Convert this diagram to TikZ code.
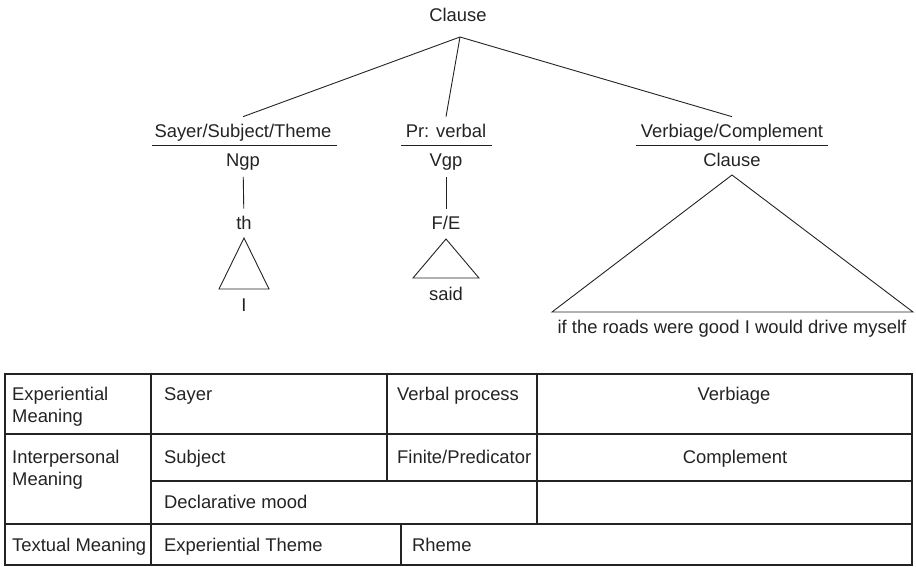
\documentclass[tikz,border=0pt]{standalone}
\usepackage{fontspec}
\setmainfont{Liberation Sans}
\usepackage{xcolor}
\usepackage{tikz}
\usetikzlibrary{calc}
\definecolor{InkGray}{RGB}{35,35,35}

\begin{document}
\begin{tikzpicture}[x=1pt, y=-1pt, font=\fontsize{18.4}{22}\selectfont, text=InkGray,
	lbl/.style={inner sep=0pt, outer ysep=7pt, anchor=base},
	cell/.style={inner sep=0pt, anchor=base west, align=left},
	branch/.style={line width=0.9pt, InkGray},
	tbl/.style={line width=1.1pt, InkGray}]
		\useasboundingbox (0,0) rectangle (916,566);
		
		% clause tree
		\node[lbl] (clause) at (458,21) {Clause};
		\coordinate (apex) at (460,37);
		
		\node[lbl] (sayer) at (243,137) {Sayer/Subject/Theme};
		\node[lbl] (prverb) at (446,137) {Pr: verbal};
		\node[lbl] (verbiage) at (732,137) {Verbiage/Complement};
		
		\node[lbl] (ngp) at (243,166) {Ngp};
		\node[lbl] (vgp) at (446,166) {Vgp};
		\node[lbl] (subclause) at (732,166) {Clause};
		
		\draw[branch] (apex) -- (sayer.north);
		\draw[branch] (apex) -- (prverb.north);
		\draw[branch] (apex) -- (verbiage.north);
		
		\draw[branch] (152,145) -- (337,145);
		\draw[branch] (401,145) -- (492,145);
		\draw[branch] (636,145) -- (828,145);
		
		\node[lbl] (th) at (244,229) {th};
		\node[lbl] (fe) at (446,229) {F/E};
		\draw[branch] (ngp) -- (th);
		\draw[branch] (vgp) -- (fe);
		
		% triangles
		\draw[branch] (244,238) -- ++(-25,51) -- ++(50,0) -- cycle;
		\draw[branch] (446,239) -- ++(-33,39) -- ++(66,0) -- cycle;
		\draw[branch] (732,175) -- ++(-180,137) -- ++(361,0) -- cycle;
		
		\node[lbl] (pron) at (244,311) {I};
		\node[lbl] (said) at (446,300) {said};
		\node[lbl] (ifclause) at (732,333) {if the roads were good I would drive myself};
		
		% table of meanings
		\draw[tbl] (5,374) rectangle (912,565);
		\draw[tbl] (5,434) -- (912,434);
		\draw[tbl] (151,481) -- (912,481);
		\draw[tbl] (5,524) -- (912,524);
		\draw[tbl] (151,374) -- (151,565);
		\draw[tbl] (387,374) -- (387,481);
		\draw[tbl] (537,374) -- (537,524);
		\draw[tbl] (401,524) -- (401,565);
		
		% base of a two-line cell sits on its last line
		\node[cell] (expm) at (12,422) {Experiential\\Meaning};
		\node[cell] (sayercell) at (164,400) {Sayer};
		\node[cell] (verbproc) at (397,400) {Verbal process};
		\node[lbl] (verbiagecell) at (734,400) {Verbiage};
		
		\node[cell] (intm) at (12,485) {Interpersonal\\Meaning};
		\node[cell] (subj) at (164,463) {Subject};
		\node[cell] (finpred) at (397,463) {Finite/Predicator};
		\node[lbl] (compl) at (735,463) {Complement};
		\node[cell] (mood) at (164,508) {Declarative mood};
		
		\node[cell] (textm) at (12,551) {Textual Meaning};
		\node[cell] (exptheme) at (164,551) {Experiential Theme};
		\node[cell] (rheme) at (412,551) {Rheme};
	\end{tikzpicture}
\end{document}
